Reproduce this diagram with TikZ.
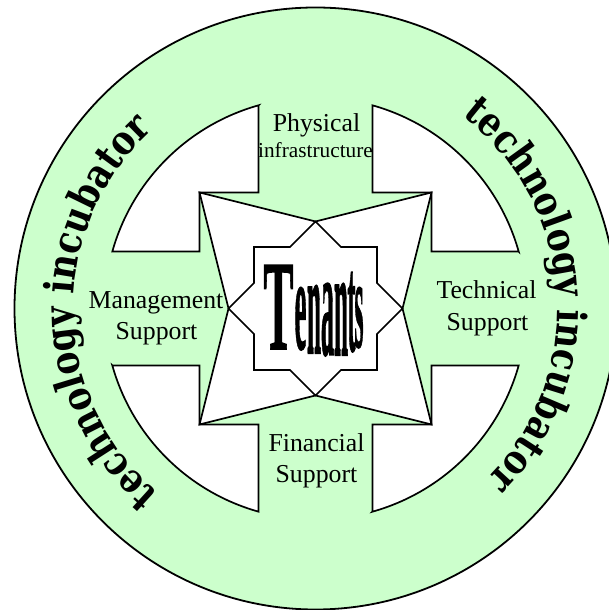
\documentclass[tikz,border=0pt]{standalone}
\usepackage{fontspec}
\usepackage{graphicx}
\setmainfont{Liberation Serif}
\newfontfamily\arcfont{DejaVu Serif}[FakeStretch=0.85]
\newfontfamily\tenfont{Liberation Serif}[FakeBold=1.2]
\usetikzlibrary{decorations.text,calc}

\definecolor{ringgreen}{HTML}{CCFFCC}

\begin{document}
\begin{tikzpicture}[x=1pt,y=1pt,
  outline/.style={draw=black, line width=1.7pt},
  lbl/.style={inner sep=0pt, anchor=base, font=\fontsize{25.8}{30}\selectfont},
  small lbl/.style={lbl, font=\fontsize{21.3}{24}\selectfont},
  letter/.style={inner sep=0pt, anchor=north},
  ringtext/.style={decorate, decoration={text along path, text align=center,
    text={|\arcfont\bfseries\fontsize{40.5}{42}\selectfont|technology incubator}}}]
\useasboundingbox (0,0) rectangle (609,610);
\coordinate (C) at (315.5,301.5);

% green ring
\fill[ringgreen] (C) circle[radius=301];
\draw[line width=1.8pt] (C) circle[radius=301];

% white pockets between the four arrow shafts
\foreach \k in {0,1,2,3}{
  \begin{scope}[shift={(C)}, rotate=90*\k]
    \filldraw[fill=white, outline] (-57,203.16) -- (-57,116) -- (-116,116)
      -- (-116,57) -- (-203.16,57)
      arc[start angle=164.33, end angle=105.67, radius=211] -- cycle;
  \end{scope}
}

% four-pointed star between the arrow heads, and the eight-pointed star
\begin{scope}[shift={(C)}]
  \filldraw[fill=white, outline] (-116,116) -- (0,87) -- (116,116) -- (87,0)
    -- (116,-116) -- (0,-87) -- (-116,-116) -- (-87,0) -- cycle;
  \filldraw[fill=white, outline] (0,87) -- (25.5,61.5) -- (61.5,61.5)
    -- (61.5,25.5) -- (87,0) -- (61.5,-25.5) -- (61.5,-61.5) -- (25.5,-61.5)
    -- (0,-87) -- (-25.5,-61.5) -- (-61.5,-61.5) -- (-61.5,-25.5) -- (-87,0)
    -- (-61.5,25.5) -- (-61.5,61.5) -- (-25.5,61.5) -- cycle;
\end{scope}

% centre word, letter by letter
\node[letter] (tT)  at (278.5,345) {\resizebox*{30pt}{84pt}{\tenfont\bfseries T}};
\node[letter] (te)  at (300.5,323) {\resizebox*{12pt}{63pt}{\tenfont\bfseries e}};
\node[letter] (tn1) at (314,325)   {\resizebox*{14pt}{68pt}{\tenfont\bfseries n}};
\node[letter] (ta)  at (327.5,327) {\resizebox*{13pt}{73pt}{\tenfont\bfseries a}};
\node[letter] (tn2) at (341,327)   {\resizebox*{14pt}{72pt}{\tenfont\bfseries n}};
\node[letter] (tt)  at (351.5,338) {\resizebox*{8pt}{80pt}{\tenfont\bfseries t}};
\node[letter] (ts)  at (359,323)   {\resizebox*{9pt}{61pt}{\tenfont\bfseries s}};

% arrow labels
\node[lbl] (phys) at (316.5,478) {Physical};
\node[small lbl] (infra) at (315.5,452) {infrastructure};
\node[lbl] (mgmt) at (156,301) {Management};
\node[lbl] (msup) at (156.5,270) {Support};
\node[lbl] (tech) at (486.5,311) {Technical};
\node[lbl] (tsup) at (487.5,279) {Support};
\node[lbl] (fin)  at (316.5,158) {Financial};
\node[lbl] (fsup) at (316.5,127) {Support};

% curved ring titles
\path[ringtext] ($(C)+(232:242)$) arc[start angle=232, end angle=130, radius=242];
\path[ringtext] ($(C)+(55:242)$) arc[start angle=55, end angle=-47, radius=242];
\end{tikzpicture}
\end{document}
